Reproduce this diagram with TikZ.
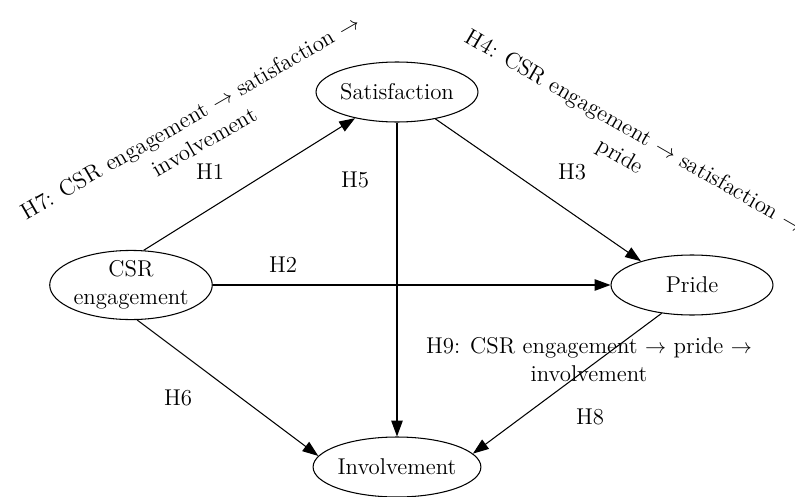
\documentclass[tikz,border=0pt]{standalone}
\usepackage{tikz}
\usetikzlibrary{shapes.geometric,arrows.meta}

\begin{document}
\begin{tikzpicture}[x=0.02cm,y=-0.02cm,font=\fontsize{13}{16}\selectfont]
\tikzstyle{construct}=[ellipse,draw,line width=0.6pt,inner sep=0pt,minimum width=3.24cm,minimum height=1.2cm,align=center]
\tikzstyle{path}=[line width=0.6pt,-{Triangle[length=9pt,width=6.5pt]}]
\tikzstyle{hyp}=[inner sep=1pt,align=center]
\useasboundingbox (0,0) rectangle (795,497);
\foreach \name/\point/\txt in {
	sat/{397,92}/Satisfaction,
	csr/{131,285}/{CSR\\engagement},
	pride/{692,285}/Pride,
	inv/{397,467}/Involvement}
	\node[construct] (\name) at (\point) {\txt};
\foreach \name/\point/\txt in {
	h1/{210,172}/H1,
	h2/{283,265}/H2,
	h3/{572,172}/H3,
	h5/{355,180}/H5,
	h6/{178,398}/H6,
	h8/{590,417}/H8}
	\node[hyp] (\name) at (\point) {\txt};
% mediation paths
\node[hyp,rotate=30] (h7) at (197,129) {H7: CSR engagement $\rightarrow$ satisfaction $\rightarrow$\\involvement};
\node[hyp,rotate=-30] (h4) at (627,145) {H4: CSR engagement $\rightarrow$ satisfaction $\rightarrow$\\pride};
\node[hyp] (h9) at (589,360) {H9: CSR engagement $\rightarrow$ pride $\rightarrow$\\involvement};
\draw[path] (csr.70) -- (sat.212);
\draw[path] (csr.east) -- (pride.west);
\draw[path] (sat.-35) -- (pride.155);
\draw[path] (sat.south) -- (inv.north);
\draw[path] (csr.-80) -- (inv.172);
\draw[path] (pride.223) -- (inv.10);
\end{tikzpicture}
\end{document}
